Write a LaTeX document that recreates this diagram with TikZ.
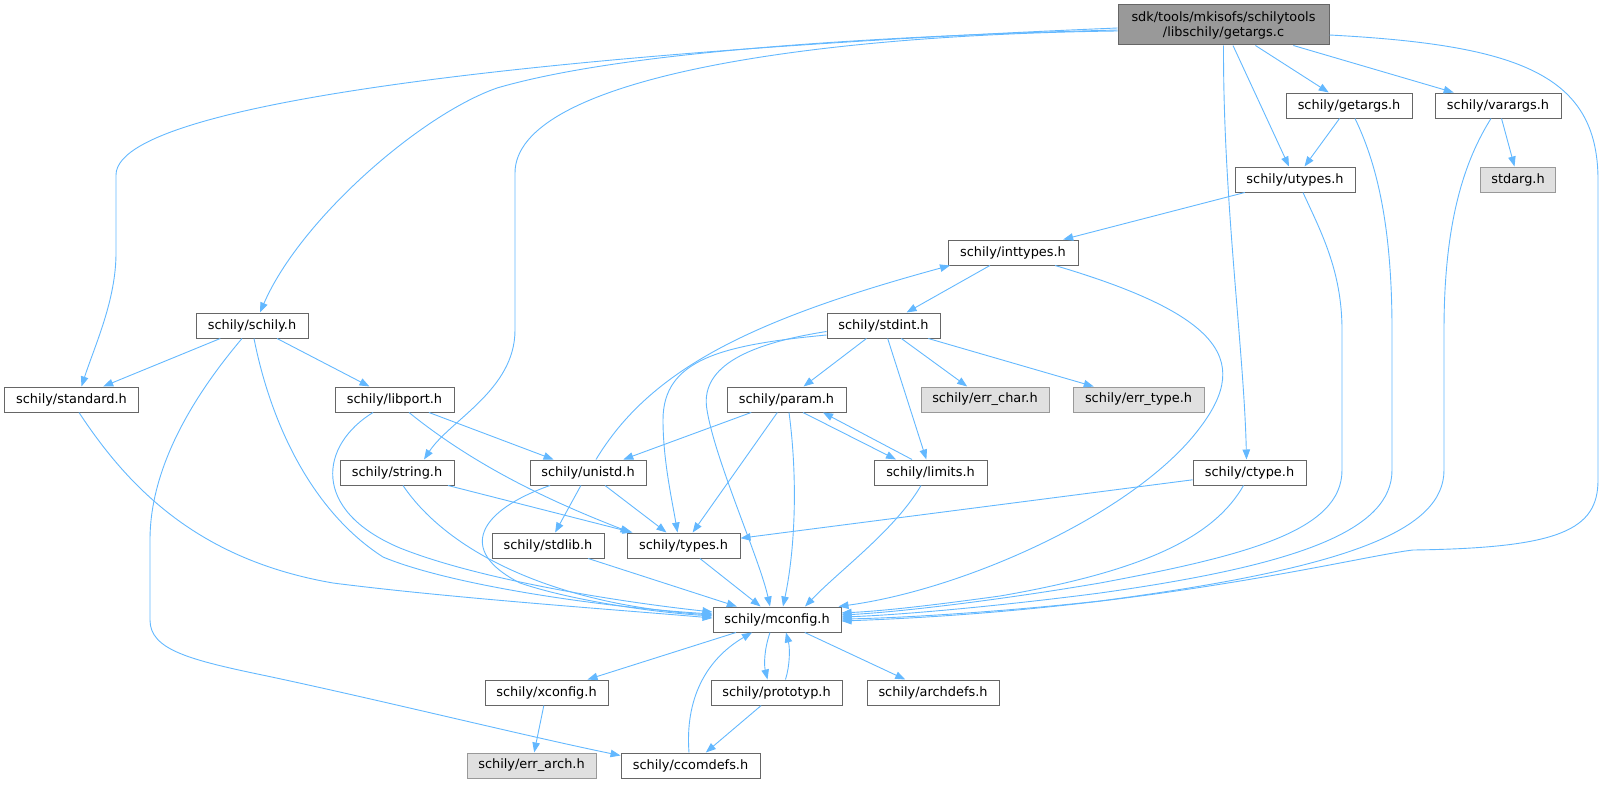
\documentclass[tikz,border=0pt]{standalone}
\usepackage{fontspec}
\setmainfont{DejaVu Sans}
\usetikzlibrary{arrows.meta}
\definecolor{edgec}{HTML}{63B8FF}
\definecolor{bordc}{HTML}{666666}
\definecolor{rootc}{HTML}{999999}
\definecolor{grayf}{HTML}{E0E0E0}
\begin{document}
\begin{tikzpicture}[x=1pt,y=-1pt,
 hbox/.style={draw=bordc, fill=white, line width=1pt, minimum height=25pt, inner sep=0pt, font=\fontsize{12.9}{15}\selectfont, text=black},
 rootbox/.style={hbox, fill=rootc, minimum height=40pt, align=center},
 graybox/.style={hbox, draw=rootc, fill=grayf},
 edge/.style={draw=edgec, line width=0.9pt, -{Triangle[length=10pt,width=7.5pt]}}
]
\useasboundingbox (0,0) rectangle (1605,784);
% nodes
\node[rootbox, minimum width=211pt] (A) at (1223.5,25) {sdk/tools/mkisofs/schilytools\\/libschily/getargs.c};
\node[hbox, minimum width=126pt] (GH) at (1349,105.5) {schily/getargs.h};
\node[hbox, minimum width=126pt] (VA) at (1498,105.5) {schily/varargs.h};
\node[hbox, minimum width=120pt] (UT) at (1295,179.5) {schily/utypes.h};
\node[graybox, minimum width=75pt] (SA) at (1518,179.5) {stdarg.h};
\node[hbox, minimum width=130pt] (IT) at (1013,252.5) {schily/inttypes.h};
\node[hbox, minimum width=113pt] (SI) at (883.5,325.5) {schily/stdint.h};
\node[hbox, minimum width=119pt] (PA) at (786.5,399.5) {schily/param.h};
\node[graybox, minimum width=128pt] (EC) at (985,399.5) {schily/err\_char.h};
\node[graybox, minimum width=131pt] (ET) at (1138.5,399.5) {schily/err\_type.h};
\node[hbox, minimum width=113pt] (LI) at (930.5,472.5) {schily/limits.h};
\node[hbox, minimum width=116pt] (UN) at (588,472.5) {schily/unistd.h};
\node[hbox, minimum width=113pt] (CT) at (1249.5,472.5) {schily/ctype.h};
\node[hbox, minimum width=112pt] (SC) at (252,325.5) {schily/schily.h};
\node[hbox, minimum width=134pt] (ST) at (71.5,399.5) {schily/standard.h};
\node[hbox, minimum width=119pt] (LP) at (394.5,399.5) {schily/libport.h};
\node[hbox, minimum width=114pt] (SR) at (397,472.5) {schily/string.h};
\node[hbox, minimum width=113pt] (TY) at (683.5,545.5) {schily/types.h};
\node[hbox, minimum width=112pt] (SL) at (548,545.5) {schily/stdlib.h};
\node[hbox, minimum width=128pt] (MC) at (777,619.5) {schily/mconfig.h};
\node[hbox, minimum width=123pt] (XC) at (546.5,692.5) {schily/xconfig.h};
\node[hbox, minimum width=131pt] (PR) at (776.5,692.5) {schily/prototyp.h};
\node[hbox, minimum width=132pt] (AD) at (933,692.5) {schily/archdefs.h};
\node[graybox, minimum width=129pt] (EA) at (531.5,765.5) {schily/err\_arch.h};
\node[hbox, minimum width=139pt] (CC) at (690.5,765.5) {schily/ccomdefs.h};
% edges from getargs.c
\draw[edge] ([yshift=-3pt]A.west) .. controls (700,45) and (116,90) .. (116,175) -- (116,253) .. controls (116,300) and (95,345) .. ([xshift=10pt]ST.north);
\draw[edge] ([yshift=-5pt]A.west) .. controls (800,38) and (600,58) .. (497,88) .. controls (420,115) and (300,220) .. ([xshift=8pt]SC.north);
\draw[edge] ([yshift=-6pt]A.west) .. controls (800,35) and (515,80) .. (515,173) -- (515,330) .. controls (515,390) and (450,420) .. ([xshift=27pt]SR.north);
\draw[edge] (A) -- (UT);
\draw[edge] (A) -- (GH);
\draw[edge] (A) -- (VA);
\draw[edge] (A.south) .. controls (1223,200) and (1244,350) .. ([xshift=-3pt]CT.north);
\draw[edge] ([yshift=-10pt]A.east) .. controls (1520,45) and (1598,75) .. (1598,180) -- (1598,480) .. controls (1598,530) and (1560,548) .. (1413,550) .. controls (1360,556) and (1150,610) .. ([yshift=-1.5pt]MC.east);
% getargs.h, varargs.h, utypes.h
\draw[edge] (GH) -- (UT);
\draw[edge] (VA) -- (SA);
\draw[edge] (UT) -- (IT);
\draw[edge] ([xshift=8pt]UT.south) .. controls (1320,230) and (1342,270) .. (1342,330) -- (1342,470) .. controls (1342,530) and (1250,555) .. (1100,583) .. controls (1000,600) and (900,612) .. ([yshift=4.5pt]MC.east);
\draw[edge] ([xshift=6pt]GH.south) .. controls (1375,160) and (1392,220) .. (1392,330) -- (1392,470) .. controls (1392,530) and (1300,565) .. (1100,593) .. controls (1000,606) and (900,615) .. ([yshift=2.5pt]MC.east);
\draw[edge] ([xshift=-7pt]VA.south) .. controls (1465,160) and (1444,220) .. (1444,330) -- (1444,470) .. controls (1444,530) and (1350,568) .. (1100,601) .. controls (1000,612) and (900,618) .. ([yshift=0.5pt]MC.east);
% inttypes.h
\draw[edge] (IT) -- (SI);
\draw[edge] ([xshift=42pt]IT.south) .. controls (1240,320) and (1250,370) .. (1190,440) .. controls (1120,520) and (960,590) .. ([xshift=-3pt]MC.north east);
% stdint.h
\draw[edge] (SI) -- (PA);
\draw[edge] (SI) -- (EC);
\draw[edge] (SI) -- (ET);
\draw[edge] (SI) -- (LI);
\draw[edge] ([yshift=-9.5pt]SI.west) .. controls (720,345) and (663,360) .. (663,420) .. controls (663,460) and (672,500) .. ([xshift=-6pt]TY.north);
\draw[edge] ([yshift=-6pt]SI.west) .. controls (740,345) and (700,370) .. (707,410) .. controls (715,460) and (760,560) .. ([xshift=-7pt]MC.north);
% param.h, limits.h
\draw[edge] (PA) -- (UN);
\draw[edge] (PA) -- (TY);
\draw[edge] ([xshift=2.5pt]PA.south) .. controls (798,480) and (795,550) .. ([xshift=6pt]MC.north);
\draw[edge] ([xshift=16.5pt]PA.south) -- ([xshift=-34.5pt]LI.north);
\draw[edge] ([xshift=-18.5pt]LI.north) -- ([xshift=36.5pt]PA.south);
\draw[edge] ([xshift=-9.5pt]LI.south) .. controls (895,530) and (840,570) .. ([xshift=28pt]MC.north);
% unistd.h
\draw[edge] ([xshift=8pt]UN.north) .. controls (650,370) and (750,320) .. ([xshift=-63pt]IT.south);
\draw[edge] (UN) -- (SL);
\draw[edge] (UN) -- (TY);
\draw[edge] ([xshift=-38pt]UN.south) .. controls (480,510) and (455,550) .. (520,583) .. controls (570,600) and (650,612) .. ([yshift=3.5pt]MC.west);
% schily.h
\draw[edge] (SC) -- (ST);
\draw[edge] (SC) -- (LP);
\draw[edge] ([xshift=2pt]SC.south) .. controls (270,420) and (310,510) .. (383,557) .. controls (450,585) and (600,607) .. ([yshift=5.5pt]MC.west);
\draw[edge] ([xshift=-10pt]SC.south) .. controls (190,400) and (150,470) .. (150,540) -- (150,620) .. controls (150,650) and (190,660) .. (267,676) .. controls (380,700) and (530,737) .. ([yshift=-3pt]CC.north west);
% standard.h
\draw[edge] ([xshift=7.5pt]ST.south) .. controls (130,490) and (200,560) .. (333,583) .. controls (450,598) and (620,610) .. ([yshift=1.5pt]MC.west);
% libport.h
\draw[edge] (LP) -- (UN);
\draw[edge] ([xshift=14.5pt]LP.south) .. controls (480,470) and (560,505) .. ([xshift=-53pt]TY.north);
\draw[edge] ([xshift=-21.5pt]LP.south) .. controls (320,445) and (310,510) .. (400,548) .. controls (480,580) and (620,602) .. ([yshift=7.5pt]MC.west);
% string.h
\draw[edge] (SR) -- (TY);
\draw[edge] ([xshift=6pt]SR.south) .. controls (450,555) and (560,605) .. ([yshift=4.5pt]MC.west);
% ctype.h
\draw[edge] (CT) -- (TY);
\draw[edge] ([xshift=-6pt]CT.south) .. controls (1215,535) and (1150,570) .. (1000,596) .. controls (920,607) and (880,611) .. ([yshift=6.5pt]MC.east);
% types.h, stdlib.h
\draw[edge] (TY) -- (MC);
\draw[edge] (SL) -- (MC);
% mconfig.h
\draw[edge] (MC) -- (XC);
\draw[edge] (MC) -- (AD);
\draw[edge] ([xshift=-7pt]MC.south) .. controls (764,650) and (764,665) .. ([xshift=-9pt]PR.north);
\draw[edge] ([xshift=9pt]PR.north) .. controls (790,665) and (790,648) .. ([xshift=9pt]MC.south);
\draw[edge] (XC) -- (EA);
\draw[edge] (PR) -- (CC);
\draw[edge] ([xshift=-1.5pt]CC.north) .. controls (685,700) and (705,660) .. ([xshift=-25pt]MC.south);
\end{tikzpicture}
\end{document}
